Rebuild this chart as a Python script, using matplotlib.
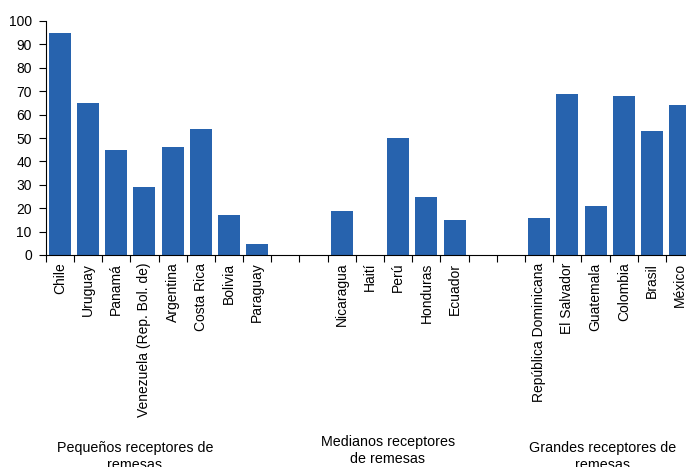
import numpy as np
import matplotlib
matplotlib.use("Agg")
import matplotlib.pyplot as plt

plt.rcParams['font.family'] = ['Liberation Sans', 'DejaVu Sans']

# remittance receivers, grouped by size (blank slots separate the groups)
pequenos = ['Chile', 'Uruguay', 'Panamá', 'Venezuela (Rep. Bol. de)', 'Argentina',
            'Costa Rica', 'Bolivia', 'Paraguay']
pequenos_val = [95, 65, 45, 29, 46, 54, 17, 4.7]
medianos = ['Nicaragua', 'Haití', 'Perú', 'Honduras', 'Ecuador']
medianos_val = [19, 0, 50, 25, 15]
grandes = ['República Dominicana', 'El Salvador', 'Guatemala', 'Colombia', 'Brasil', 'México']
grandes_val = [16, 69, 21, 68, 53, 64]
grupos = ['Pequeños receptores de\nremesas', 'Medianos receptores\nde remesas',
          'Grandes receptores de\nremesas']

labels = pequenos + ['', ''] + medianos + ['', ''] + grandes
values = pequenos_val + [0, 0] + medianos_val + [0, 0] + grandes_val
x = np.arange(len(labels))

fig = plt.figure(figsize=(6.86, 4.67), dpi=100)
# axes runs a bit past the right edge, like the cropped original
ax = fig.add_axes([45.7 / 686, 1 - 255 / 467, 648.6 / 686, 234 / 467])

ax.bar(x, values, width=0.78, color='#2763ae', zorder=2)

ax.set_xlim(-0.5, len(labels) - 0.5)
ax.set_ylim(0, 100)
ax.set_yticks(np.arange(0, 101, 10))

# ticks at the slot boundaries, labels at the slot centres
ax.set_xticks(np.arange(len(labels) + 1) - 0.5)
ax.set_xticklabels([])
ax.set_xticks(x, minor=True)
ax.set_xticklabels(labels, minor=True, rotation=90, va='top', ha='center')
ax.tick_params(axis='x', which='major', direction='out', length=5, width=0.8)
ax.tick_params(axis='x', which='minor', length=0, pad=5.5, labelsize=10)
ax.tick_params(axis='y', direction='out', length=5, width=0.8, pad=5, labelsize=10)

for s in ['top', 'right']:
    ax.spines[s].set_visible(False)
for s in ['left', 'bottom']:
    ax.spines[s].set_linewidth(0.8)

# group captions below the country names
fig.text(135 / 686, 1 - 441 / 467, grupos[0], ha='center', va='top', fontsize=10.3,
         linespacing=1.25)
fig.text(388 / 686, 1 - 435 / 467, grupos[1], ha='center', va='top', fontsize=10.3,
         linespacing=1.25)
fig.text(603 / 686, 1 - 441 / 467, grupos[2], ha='center', va='top', fontsize=10.3,
         linespacing=1.25)

fig.savefig('out.png', dpi=100)
